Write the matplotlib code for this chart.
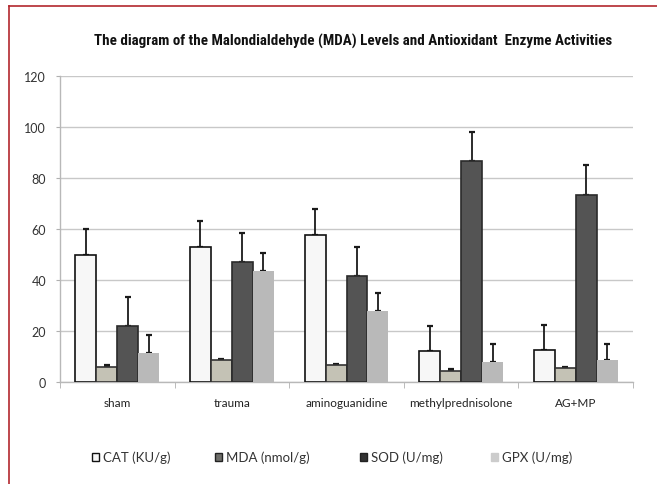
import matplotlib
matplotlib.use("Agg")
import matplotlib.pyplot as plt
import numpy as np
from matplotlib.lines import Line2D
from matplotlib.patches import Patch
from matplotlib import font_manager as fm

categories = ["sham", "trauma", "aminoguanidine", "methylprednisolone", "AG+MP"]
series_names = ["CAT (KU/g)", "MDA (nmol/g)", "SOD (U/mg)", "GPX (U/mg)"]
cat_vals = [50, 53, 57.5, 12, 12.5]
cat_err = [10, 10, 10.5, 10, 10]
mda_vals = [6, 8.5, 6.8, 4.5, 5.5]
mda_err = [0.6, 0.4, 0.4, 0.6, 0.5]
sod_vals = [22, 47, 41.5, 86.5, 73.5]
sod_err = [11.5, 11.5, 11.5, 11.5, 11.5]
gpx_vals = [11.5, 43.5, 28, 8, 8.5]
gpx_err = [7, 7, 7, 7, 6.5]
yticks = [0, 20, 40, 60, 80, 100, 120]
title = "The diagram of the Malondialdehyde (MDA) Levels and Antioxidant  Enzyme Activities"

W, H = 657, 485
fig = plt.figure(figsize=(W / 100, H / 100), dpi=100)
ax = fig.add_axes([60 / W, 1 - 383 / H, (633 - 60) / W, (383 - 77) / H])

tick_font = ["Lato", "DejaVu Sans"]

vals = [cat_vals, mda_vals, sod_vals, gpx_vals]
errs = [cat_err, mda_err, sod_err, gpx_err]
faces = ["#f7f7f7", "#c4c2b5", "#545454", "#b9b9b9"]
edges = ["#111111", "#333333", "#2a2a2a", "#b9b9b9"]
lws = [1.2, 1.2, 1.2, 0.0]
legend_faces = ["#f7f7f7", "#6e6e6a", "#333333", "#cccccc"]
legend_edges = ["#111111", "#222222", "#222222", "#cccccc"]

x = np.arange(len(categories))
bw = 0.183
offsets = (np.arange(4) - 1.5) * bw
for i in range(4):
    ax.bar(x + offsets[i], vals[i], bw, color=faces[i], edgecolor=edges[i],
           linewidth=lws[i], zorder=3, label=series_names[i])
    ax.errorbar(x + offsets[i], vals[i],
                yerr=[np.zeros(len(categories)), errs[i]],
                fmt="none", ecolor="#1a1a1a", elinewidth=1.3, capsize=2.5,
                capthick=1.6, zorder=2)

ax.set_xlim(-0.5, len(categories) - 0.5)
ax.set_ylim(0, 120)
ax.set_yticks(yticks)
ax.set_yticklabels([str(t) for t in yticks], fontfamily=tick_font,
                   fontsize=9, color="#333333")
ax.grid(axis="y", color="#c8c8c8", linewidth=1.0, zorder=0)
ax.set_axisbelow(True)

ax.set_xticks(x)
ax.set_xticklabels(categories, fontfamily=tick_font, fontsize=8.5, color="#222222")
ax.tick_params(axis="x", length=0, pad=11)
ax.set_xticks(np.arange(len(categories) + 1) - 0.5, minor=True)
ax.tick_params(axis="x", which="minor", length=4, color="#b0b0b0", direction="out")
ax.tick_params(axis="y", length=3, color="#b0b0b0", direction="out", pad=7)

for s in ["top", "right"]:
    ax.spines[s].set_visible(False)
for s in ["left", "bottom"]:
    ax.spines[s].set_color("#b8b8b8")
    ax.spines[s].set_linewidth(1.0)

# title: prefer a condensed bold font, fitted to reference width
title_props = dict(fontfamily="Liberation Sans")
found = False
for cand in ["Liberation Sans Narrow", "Roboto Condensed", "Open Sans Condensed",
             "DejaVu Sans Condensed"]:
    try:
        fm.findfont(fm.FontProperties(family=cand, weight="bold"), fallback_to_default=False)
        title_props = dict(fontfamily=cand)
        found = True
        break
    except Exception:
        pass
if not found:
    for fam in ["Roboto", "DejaVu Sans", "Open Sans"]:
        try:
            p = fm.findfont(fm.FontProperties(family=fam, weight="bold", stretch="condensed"),
                            fallback_to_default=False)
            if "ondensed" in p or "arrow" in p:
                title_props = dict(fontfamily=fam, fontstretch="condensed")
                found = True
                break
        except Exception:
            pass
tt = fig.text(353 / W, 1 - 41 / H, title, ha="center", va="center", fontsize=11,
              fontweight="bold", color="#111111", **title_props)
fig.canvas.draw()
wpx = tt.get_window_extent().width
target = 516.0
if wpx > 0:
    tt.set_fontsize(min(11 * target / wpx, 12.5))

# legend: one entry per position as in reference
box_x = [92, 215, 360, 491]
for i, (lab, bx) in enumerate(zip(series_names, box_x)):
    ph = Patch(facecolor=legend_faces[i], edgecolor=legend_edges[i], linewidth=1.0)
    lg = fig.legend([ph], [lab], loc="center left", bbox_to_anchor=(bx / W, 1 - 458 / H),
                    frameon=False, handlelength=0.55, handleheight=0.55,
                    handletextpad=0.3, borderpad=0, borderaxespad=0,
                    prop={"family": tick_font, "size": 9.5})
    for t in lg.get_texts():
        t.set_color("#333333")

# red border lines (top and left)
red = "#b3282e"
fig.add_artist(Line2D([9 / W, 1], [1 - 7 / H, 1 - 7 / H], transform=fig.transFigure,
                      color=red, linewidth=1.2))
fig.add_artist(Line2D([9 / W, 9 / W], [0, 1 - 7 / H], transform=fig.transFigure,
                      color=red, linewidth=1.2))

fig.savefig("out.png", dpi=100)
